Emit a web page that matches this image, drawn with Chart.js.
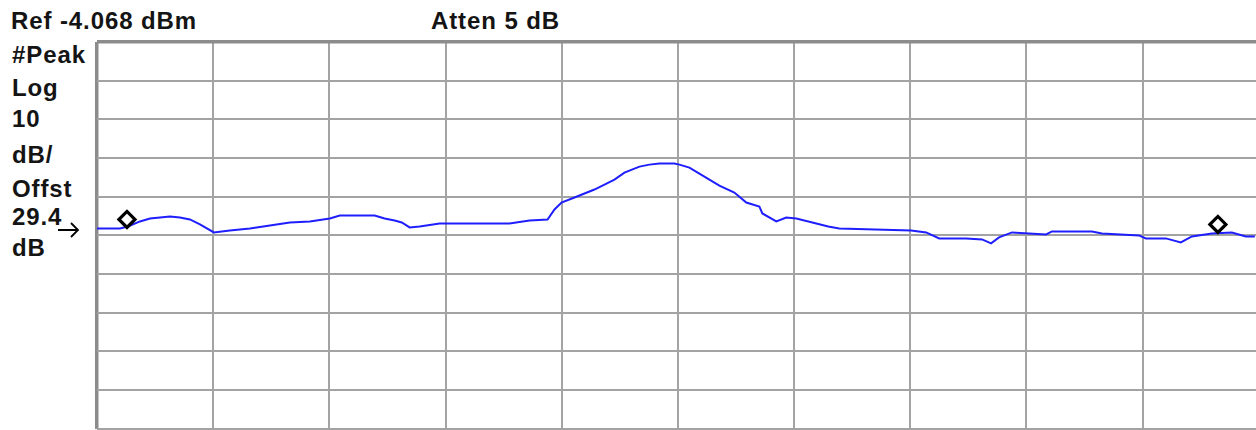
<!DOCTYPE html>
<html>
<head>
<meta charset="utf-8">
<script src="https://cdn.jsdelivr.net/npm/chart.js@4"></script>
<style>
  html, body { margin: 0; padding: 0; background: #fff; overflow: hidden; width: 1256px; height: 430px; }
  #wrap { position: absolute; left: 0; top: 0; width: 1270px; height: 440px; }
  .lbl { position: absolute; font-family: "Liberation Sans", Arial, sans-serif; font-weight: bold;
         font-size: 24px; letter-spacing: 0.9px; color: #141414; line-height: 1; white-space: nowrap; }
  #arrow { position: absolute; left: 56px; top: 220px; }
</style>
</head>
<body>
<div class="lbl" style="left:11px; top:9px">Ref -4.068 dBm</div>
<div class="lbl" style="left:431px; top:9px">Atten 5 dB</div>
<div class="lbl" style="left:12px; top:43px">#Peak</div>
<div class="lbl" style="left:12px; top:76px">Log</div>
<div class="lbl" style="left:12px; top:107px">10</div>
<div class="lbl" style="left:12px; top:143px">dB/</div>
<div class="lbl" style="left:12px; top:177px">Offst</div>
<div class="lbl" style="left:12px; top:205px">29.4</div>
<div class="lbl" style="left:12px; top:236px">dB</div>
<svg id="arrow" width="26" height="20" viewBox="0 0 26 20">
  <path d="M2 10 H22 M15 3 L22 10 L15 17" fill="none" stroke="#000" stroke-width="1.8"/>
</svg>
<div id="wrap"><canvas id="c"></canvas></div>
<script>
// screen: 10 divisions across, 10 dB/div down from the reference level
const REF_LEVEL = -4.068;
const DB_PER_DIV = 10;
const DIVS = 10;

// trace, x in divisions, y in dBm
const traceX = [0, 0.198, 0.267, 0.370, 0.456, 0.628, 0.714, 0.800, 0.886, 1.006,
  1.144, 1.316, 1.488, 1.660, 1.832, 2.004, 2.090, 2.390, 2.476, 2.562,
  2.623, 2.691, 2.777, 2.949, 3.551, 3.723, 3.878, 3.938, 3.998, 4.110,
  4.196, 4.282, 4.368, 4.454, 4.540, 4.669, 4.755, 4.841, 4.970, 5.013,
  5.099, 5.185, 5.271, 5.357, 5.486, 5.589, 5.701, 5.727, 5.847, 5.933,
  6.019, 6.157, 6.294, 6.389, 7.008, 7.137, 7.249, 7.481, 7.618, 7.696,
  7.764, 7.876, 8.169, 8.220, 8.564, 8.650, 8.968, 9.028, 9.200, 9.329,
  9.424, 9.596, 9.768, 9.888, 9.966];
const traceY = [-52.27, -52.27, -51.75, -50.46, -49.69, -49.17, -49.43, -49.95, -51.23, -53.30,
  -52.78, -52.27, -51.49, -50.72, -50.46, -49.69, -48.91, -48.91, -49.69, -50.20,
  -50.72, -52.01, -51.75, -50.98, -50.98, -50.20, -49.95, -47.37, -45.56, -44.27,
  -43.24, -42.21, -40.92, -39.63, -37.83, -36.28, -35.77, -35.51, -35.51, -35.77,
  -36.54, -38.09, -39.63, -41.18, -42.99, -45.56, -46.59, -48.40, -50.46, -49.43,
  -49.69, -50.72, -51.75, -52.27, -52.78, -53.30, -54.84, -54.84, -55.10, -56.13,
  -54.58, -53.30, -53.81, -53.04, -53.04, -53.55, -54.07, -54.84, -54.84, -55.87,
  -54.33, -53.55, -53.30, -54.33, -54.33];

// marker diamonds
const markerX = [0.258, 9.648];
const markerY = [-49.95, -51.23];

const trace = traceX.map((x, i) => ({ x, y: traceY[i] }));
const markers = markerX.map((x, i) => ({ x, y: markerY[i] }));

const GRID = '#a3a3a3';
const EDGE = '#8c8c8c';

new Chart(document.getElementById('c'), {
  type: 'line',
  data: {
    datasets: [
      {
        label: 'trace', data: trace,
        borderColor: '#1e1eff', borderWidth: 2,
        pointRadius: 0, tension: 0, fill: false, order: 2,
      },
      {
        type: 'scatter', label: 'markers', data: markers,
        pointStyle: 'rectRot', pointRadius: 8,
        borderColor: '#000', borderWidth: 3.2, backgroundColor: '#fff', order: 1,
      },
    ],
  },
  options: {
    responsive: true, maintainAspectRatio: false, animation: false,
    layout: { padding: { left: 97, top: 42, right: 10, bottom: 10 } },
    plugins: { legend: { display: false }, tooltip: { enabled: false } },
    scales: {
      x: {
        type: 'linear', min: 0, max: DIVS,
        ticks: { display: false, stepSize: 1 },
        grid: {
          drawTicks: false,
          color: ctx => ctx.index === 0 ? EDGE : GRID,
          lineWidth: ctx => ctx.index === 0 ? 3.5 : 2,
        },
        border: { display: false },
      },
      y: {
        min: REF_LEVEL - DB_PER_DIV * DIVS, max: REF_LEVEL,
        ticks: { display: false, stepSize: DB_PER_DIV },
        grid: {
          drawTicks: false,
          color: ctx => ctx.index === DIVS ? EDGE : GRID,
          lineWidth: ctx => ctx.index === DIVS ? 3.5 : 2,
        },
        border: { display: false },
      },
    },
  },
});
</script>
</body>
</html>
